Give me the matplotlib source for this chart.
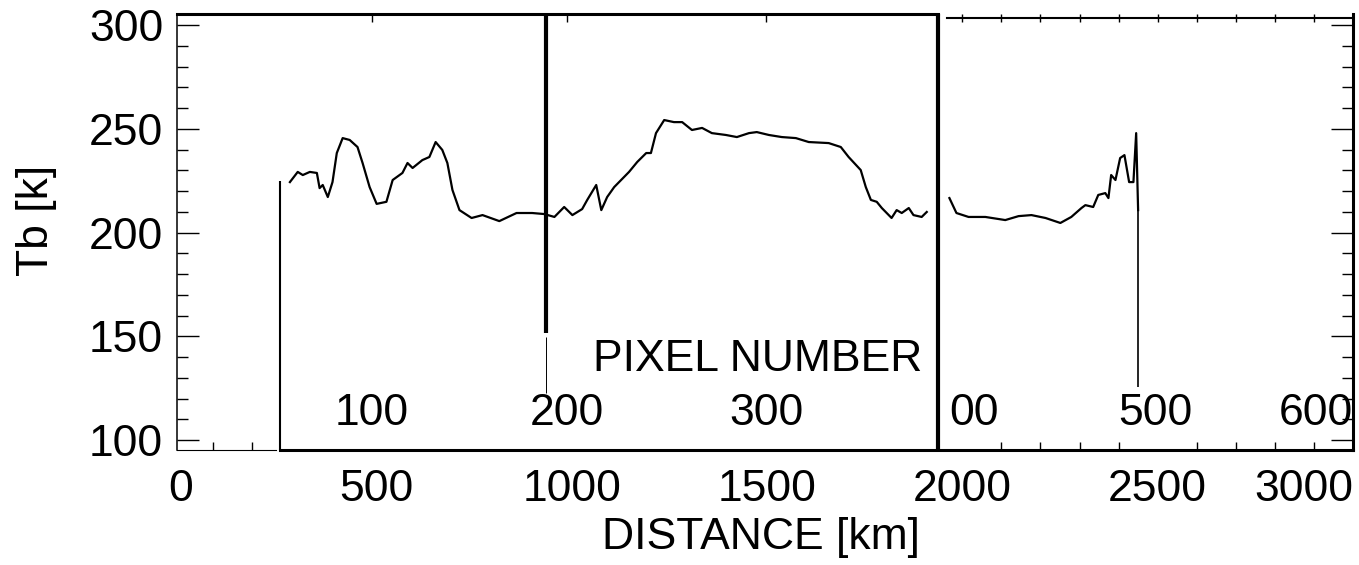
import matplotlib
matplotlib.use("Agg")
import matplotlib.pyplot as plt

plt.rcParams['font.family'] = ['Liberation Sans', 'DejaVu Sans']

# brightness temperature along the track
dist_a = [279, 299, 312, 330, 348, 355, 363, 376, 388, 399, 414, 432, 452, 465, 483,
          501, 526, 542, 567, 580, 593, 618, 636, 652, 669, 682, 695, 713, 744, 772,
          815, 859, 899, 930, 956, 981, 1002, 1027, 1040, 1063, 1076, 1091, 1109, 1147,
          1168, 1191, 1203, 1216, 1237, 1262, 1283, 1308, 1334, 1359, 1395, 1423, 1454,
          1474, 1505, 1538, 1574, 1607, 1658, 1689, 1709, 1740, 1753, 1766, 1781, 1794,
          1819, 1832, 1845, 1863, 1875, 1896, 1909]
tb_a = [224.3, 229.2, 227.7, 229.2, 228.7, 221.4, 222.9, 217.1, 224.3, 238.3, 245.5,
        244.6, 241.2, 233.5, 221.9, 213.8, 214.8, 225.3, 228.7, 233.5, 231.1, 234.9,
        236.4, 243.6, 239.8, 233.5, 220.5, 210.8, 207.0, 208.4, 205.5, 209.4, 209.4,
        208.9, 207.5, 212.3, 208.4, 211.3, 215.7, 222.9, 210.8, 217.1, 221.9, 229.2,
        234.0, 238.3, 238.3, 247.9, 254.2, 253.2, 253.2, 249.4, 250.4, 247.9, 247.0,
        246.0, 247.9, 248.4, 247.0, 246.0, 245.5, 243.6, 243.1, 241.2, 236.4, 230.1,
        221.9, 215.7, 214.8, 211.8, 207.0, 210.8, 209.4, 211.8, 208.4, 207.5, 209.9]

dist_b = [1967, 1973, 1985, 2016, 2059, 2110, 2144, 2177, 2213, 2251, 2279, 2305, 2315,
          2335, 2348, 2366, 2374, 2381, 2392, 2404, 2415, 2427, 2438, 2445, 2450]
tb_b = [216.6, 214.2, 209.4, 207.5, 207.5, 206.0, 207.9, 208.4, 207.0, 204.6, 207.5,
        211.8, 213.2, 212.3, 218.1, 219.0, 216.6, 227.7, 225.3, 235.9, 237.3, 224.3,
        224.3, 247.9, 210.8]

dist_ticks = [0, 500, 1000, 1500, 2000, 2500, 3000]
tb_ticks = [100, 150, 200, 250, 300]
pixel_labels = ['100', '200', '300', '00', '500', '600']
pixel_label_x = [488, 989, 1500, 2029, 2494, 2905]
right_panel_ticks = [2000, 2100, 2200, 2300, 2400, 2500, 2600, 2700, 2800, 2900]

fs = 32
fig = plt.figure(figsize=(13.59, 5.65), dpi=100)
ax = fig.add_axes([177 / 1359, 1 - 450 / 565, 1176 / 1359, 436 / 565])
ax.set_xlim(-10, 3000)
ax.set_ylim(95.2, 305.3)

ax.plot(dist_a, tb_a, color='black', lw=1.6)
ax.plot(dist_b, tb_b, color='black', lw=1.6)

# pasted panel edges and marker lines
ax.vlines(253, 95.2, 224.8, color='black', lw=1.5)
ax.vlines(935, 151.6, 305.3, color='black', lw=3)
ax.vlines(935, 122.6, 149.6, color='black', lw=0.7)
ax.vlines(1939, 95.2, 305.3, color='black', lw=3)
ax.vlines(2450, 125.5, 210.8, color='black', lw=1.2)
ax.plot([-10, 243], [95.2, 95.2], color='black', lw=0.8, clip_on=False)
ax.plot([1962, 3000], [303.4, 303.4], color='black', lw=1.5, clip_on=False)

for s in ['left', 'right', 'top', 'bottom']:
    ax.spines[s].set_color('black')
ax.spines['left'].set_linewidth(1.1)
ax.spines['right'].set_linewidth(2.2)
ax.spines['top'].set_linewidth(2.2)
ax.spines['top'].set_bounds(-10, 1939)
ax.spines['bottom'].set_linewidth(2.2)
ax.spines['bottom'].set_bounds(253, 3000)

ax.set_yticks(tb_ticks)
ax.set_yticks(range(100, 301, 10), minor=True)
ax.tick_params(axis='y', which='both', direction='in', left=True, right=True,
               labelsize=fs, pad=10, width=1)
ax.tick_params(axis='y', which='major', length=16)
ax.tick_params(axis='y', which='minor', length=8)

ax.set_xticks(dist_ticks)
ax.set_xticklabels([str(v) for v in dist_ticks])
ax.get_xticklabels()[-1].set_ha('right')
ax.set_xticks([82, 181] + right_panel_ticks, minor=True)
ax.tick_params(axis='x', which='major', length=0, labelsize=fs, pad=14)
ax.tick_params(axis='x', which='minor', direction='in', length=6, width=1)

top = ax.secondary_xaxis('top')
top.set_xticks([490, 989, 1497] + right_panel_ticks)
top.set_xticklabels([])
top.tick_params(direction='in', length=6, width=1)
top.spines['top'].set_visible(False)

for lab, x in zip(pixel_labels, pixel_label_x):
    ax.text(x, 113, lab, fontsize=fs, ha='center', va='center')
ax.text(1477, 139, 'PIXEL NUMBER', fontsize=fs, ha='center', va='center')

ax.set_xlabel('DISTANCE [km]', fontsize=fs)
ax.xaxis.set_label_coords(0.4966, -0.154)
ax.set_ylabel('Tb [k]', fontsize=fs)
ax.yaxis.set_label_coords(-0.102, 0.527)

fig.savefig('out.png', dpi=100)
